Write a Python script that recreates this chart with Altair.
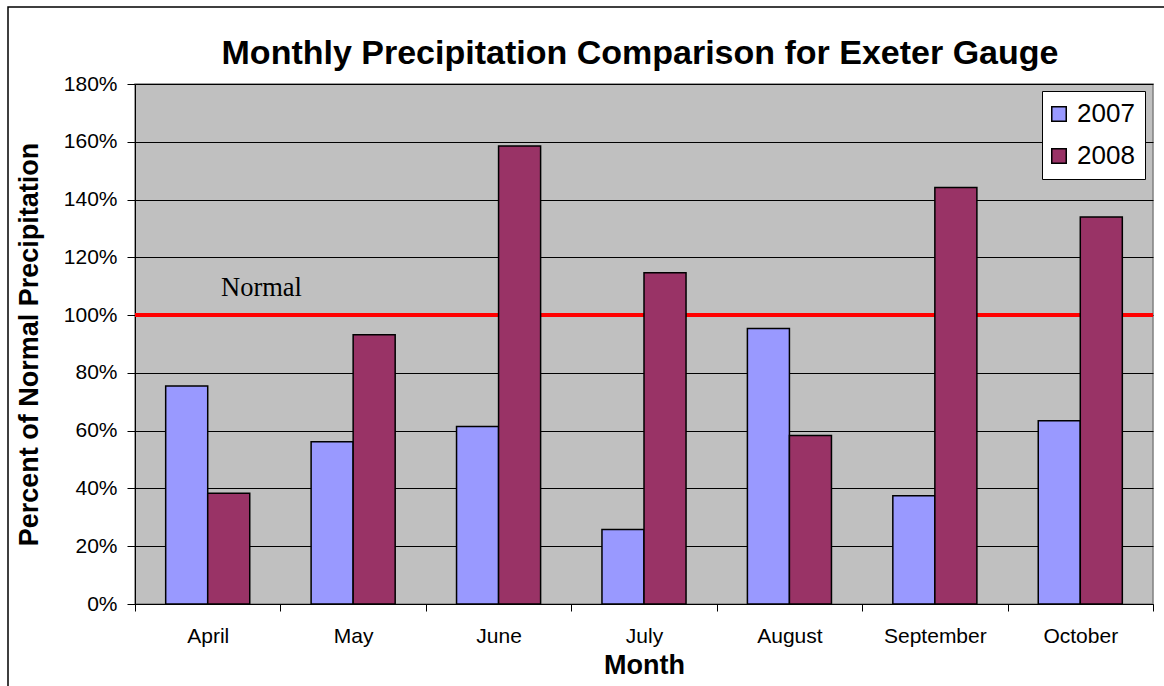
import altair as alt
import pandas as pd

# Percent of normal monthly precipitation at the Exeter gauge
months = ["April", "May", "June", "July", "August", "September", "October"]
pct_2007 = [75.5, 56.2, 61.4, 25.8, 95.4, 37.5, 63.4]
pct_2008 = [38.3, 93.2, 158.5, 114.7, 58.3, 144.2, 134.0]
years = ["2007", "2008"]
year_colors = ["#9999FF", "#993366"]
y_ticks = list(range(0, 181, 20))

bars_df = pd.DataFrame(
    {
        "Month": months * 2,
        "Year": [years[0]] * len(months) + [years[1]] * len(months),
        "Percent": pct_2007 + pct_2008,
    }
)
normal_df = pd.DataFrame({"level": [100], "label": ["Normal"]})
frame_df = pd.DataFrame({"k": [0]})

FONT = "Liberation Sans"
W, H = 1018, 520
LEFT, TOP = 135, 84

x_enc = alt.X(
    "Month:N",
    sort=months,
    scale=alt.Scale(paddingInner=0, paddingOuter=0),
    axis=alt.Axis(
        title="Month",
        labelAngle=0,
        tickBand="extent",
        labelFontSize=21,
        labelFont=FONT,
        labelColor="black",
        labelPadding=14,
        tickSize=7,
        tickColor="black",
        domainColor="black",
        titleFont=FONT,
        titleFontSize=27,
        titleFontWeight="bold",
        titleColor="black",
        titleY=69,
        titleBaseline="alphabetic",
        grid=False,
    ),
)
y_enc = alt.Y(
    "Percent:Q",
    scale=alt.Scale(domain=[0, 180], nice=False),
    axis=alt.Axis(
        title="Percent of Normal Precipitation",
        values=y_ticks,
        labelExpr="datum.value + '%'",
        labelFontSize=21,
        labelFont=FONT,
        labelColor="black",
        labelPadding=10,
        tickSize=8,
        tickColor="black",
        domainColor="black",
        grid=True,
        gridColor="black",
        gridWidth=1,
        titleFont=FONT,
        titleFontSize=27,
        titleFontWeight="bold",
        titleColor="black",
        titleX=-92,
        titleY=H / 2,
        titleAlign="center",
        titleAngle=270,
        titleBaseline="bottom",
    ),
)

# chart-area border (left and top edges fall inside the canvas)
frame = (
    alt.Chart(frame_df)
    .mark_rect(fill=None, stroke="black", strokeWidth=1.5, clip=False)
    .encode(
        x=alt.value(8 - LEFT),
        x2=alt.value(1164 - LEFT + 30),
        y=alt.value(7 - TOP),
        y2=alt.value(686 - TOP + 30),
    )
)

normal_line = (
    alt.Chart(normal_df)
    .mark_rule(color="#FF0000", strokeWidth=4)
    .encode(y=alt.Y("level:Q", scale=alt.Scale(domain=[0, 180], nice=False)))
)

normal_text = (
    alt.Chart(normal_df)
    .mark_text(
        font="Liberation Serif",
        fontSize=26.5,
        color="black",
        align="left",
        baseline="alphabetic",
        dy=-19,
    )
    .encode(x=alt.value(86), y="level:Q", text="label:N")
)

bars = (
    alt.Chart(bars_df)
    .mark_bar(stroke="black", strokeWidth=1.5, opacity=1)
    .encode(
        x=x_enc,
        xOffset=alt.XOffset(
            "Year:N", sort=years, scale=alt.Scale(paddingInner=0, paddingOuter=0.73)
        ),
        y=y_enc,
        color=alt.Color(
            "Year:N",
            scale=alt.Scale(domain=years, range=year_colors),
            legend=alt.Legend(
                title=None,
                orient="none",
                legendX=907,
                legendY=7,
                symbolType="square",
                symbolSize=210,
                symbolOffset=-6,
                symbolStrokeColor="black",
                symbolStrokeWidth=1.5,
                labelFont=FONT,
                labelFontSize=26,
                labelColor="black",
                labelOffset=5,
                rowPadding=16,
                padding=10,
                fillColor="white",
                strokeColor="black",
            ),
        ),
    )
)

# the title sits above the border rect's bounds, so it is pulled back down
chart = (
    alt.layer(frame, normal_line, normal_text, bars)
    .properties(
        width=W,
        height=H,
        title=alt.TitleParams(
            "Monthly Precipitation Comparison for Exeter Gauge",
            font=FONT,
            fontSize=34,
            fontWeight="bold",
            color="black",
            anchor="middle",
            offset=16,
            dx=-4,
            dy=81,
        ),
        autosize=alt.AutoSizeParams(type="none"),
        padding={"left": LEFT, "top": TOP, "right": 1164 - LEFT - W, "bottom": 686 - TOP - H},
    )
    .configure(background="white")
    .configure_view(fill="#C0C0C0", stroke="#808080", strokeWidth=1.5)
)

chart.save("out.html", embed_options={"renderer": "svg", "actions": False})
